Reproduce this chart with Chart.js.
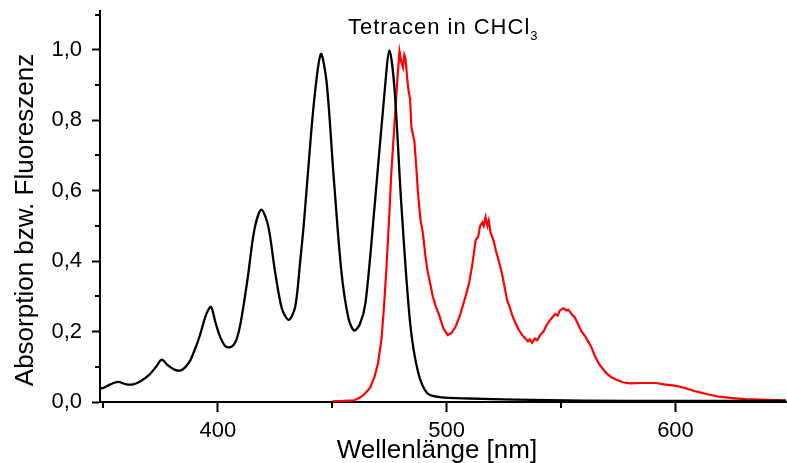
<!DOCTYPE html>
<html>
<head>
<meta charset="utf-8">
<script src="https://cdn.jsdelivr.net/npm/chart.js@4"></script>
<style>
  body{margin:0;background:#fff;}
  #wrap{position:relative;width:787px;height:463px;font-family:Arial,"Liberation Sans",sans-serif;color:#000;}
  #chart{position:absolute;left:0;top:0;}
  .lbl{position:absolute;white-space:nowrap;}
  #title{left:348px;top:16px;font-size:22px;line-height:22px;letter-spacing:1px;}
  #title sub{font-size:13px;vertical-align:-6px;letter-spacing:0;}
  #xtitle{left:237px;top:436px;width:400px;text-align:center;font-size:26px;line-height:26px;}
  #ytitle{left:-176px;top:207px;width:400px;text-align:center;font-size:26px;line-height:26px;transform:rotate(-90deg);}
</style>
</head>
<body>
<div id="wrap">
  <canvas id="chart" width="787" height="463"></canvas>
  <div class="lbl" id="title">Tetracen in CHCl<sub>3</sub></div>
  <div class="lbl" id="xtitle">Wellenlänge [nm]</div>
  <div class="lbl" id="ytitle">Absorption bzw. Fluoreszenz</div>
</div>
<script>
// ACHSEN
const xMajor=[400,500,600];
const xMinor=[350,450,550];
const yMajor=[0,0.2,0.4,0.6,0.8,1.0];
const yMinor=[0.1,0.3,0.5,0.7,0.9,1.1];

// ABSORPTION (schwarz)
const absWl=[348.5,350,353,356.5,360,363,366,370,373,375.5,378,381,384,387.5,390,392,395,397,399,401,403.5,406,408,410,413,416,419,422,425,428,431,433.8,436,437.5,439,442,445,447.5,450.5,454,457,459.5,462,464.5,468.5,473,475,477.2,480.2,484,487.5,491.5,497,510,530,560,600,648.5];
const absVal=[0.038,0.04,0.05,0.057,0.05,0.05,0.058,0.077,0.1,0.12,0.105,0.092,0.09,0.113,0.15,0.186,0.25,0.27,0.225,0.185,0.157,0.157,0.175,0.226,0.35,0.49,0.546,0.5,0.37,0.265,0.233,0.27,0.4,0.5,0.62,0.85,0.988,0.91,0.65,0.37,0.24,0.203,0.22,0.28,0.555,0.89,0.998,0.89,0.56,0.227,0.085,0.025,0.014,0.01,0.007,0.004,0.003,0.003];

// FLUORESZENZ (rot)
const fluWl=[450,455,459.5,462,464,466.5,468.5,470,471.5,472.5,473.6,475,475.8,476.8,477.7,478.6,479.4,480.2,480.9,481.5,482,482.6,483.2,484,484.6,485.9,486.8,487.4,488.5,489.6,490.8,491.7,493,493.9,495.3,496.8,498.5,500.4,502,504,505.5,506.9,508.5,509.8,511.2,512.7,513.8,514.6,515.6,516.2,517,517.8,518.4,519.2,520.6,521.5,522.8,524,525,526.4,527.5,528.6,530,531.5,533,534.4,535.5,536.3,537.3,538.5,539.5,540.9,542.3,543.8,545.5,547.4,548.5,549.5,551,552.3,553.2,554.6,556,557.5,559,560.4,562,563.3,564.8,566.9,569.8,572,574.2,577,580,585,591.5,595,600.2,604,608.9,614,619,625,630.6,640,648.5];
const fluVal=[0.002,0.003,0.005,0.012,0.022,0.04,0.072,0.11,0.178,0.26,0.37,0.54,0.65,0.75,0.84,0.93,0.995,0.965,0.95,0.985,0.975,0.93,0.89,0.86,0.78,0.74,0.66,0.6,0.52,0.48,0.41,0.37,0.33,0.3,0.27,0.245,0.21,0.19,0.195,0.215,0.24,0.27,0.305,0.337,0.39,0.46,0.47,0.5,0.51,0.5,0.525,0.5,0.515,0.48,0.457,0.43,0.4,0.37,0.337,0.29,0.27,0.247,0.225,0.205,0.19,0.18,0.172,0.178,0.168,0.18,0.175,0.19,0.2,0.22,0.235,0.25,0.245,0.26,0.266,0.26,0.262,0.25,0.24,0.22,0.2,0.188,0.17,0.155,0.13,0.105,0.082,0.07,0.063,0.056,0.053,0.054,0.054,0.05,0.046,0.04,0.03,0.022,0.015,0.011,0.008,0.006,0.005];

const pts=(xs,ys)=>xs.map((x,i)=>({x,y:ys[i]}));
const komma=v=>v.toFixed(1).replace(".",",");

// KLEINE TICKS
const minorTicks={
  id:"minorTicks",
  afterDraw(c){
    const ctx=c.ctx, xs=c.scales.x, ys=c.scales.y, a=c.chartArea;
    ctx.save();
    ctx.strokeStyle="#000";
    ctx.lineWidth=2;
    ctx.beginPath();
    xMinor.forEach(v=>{let p=Math.round(xs.getPixelForValue(v));ctx.moveTo(p,a.bottom);ctx.lineTo(p,a.bottom+6);});
    yMinor.forEach(v=>{let p=Math.round(ys.getPixelForValue(v));ctx.moveTo(a.left,p);ctx.lineTo(a.left-5,p);});
    ctx.stroke();
    ctx.restore();
  }
};

new Chart(document.getElementById("chart"),{
  type:"line",
  data:{
    datasets:[
      {data:pts(absWl,absVal),borderColor:"#000",borderWidth:2.3,pointRadius:0,tension:0.3},
      {data:pts(fluWl,fluVal),borderColor:"#ff0000",borderWidth:2.2,pointRadius:0,tension:0}
    ]
  },
  options:{
    responsive:false,
    animation:false,
    layout:{padding:{top:11,right:1,left:0,bottom:0}},
    plugins:{legend:{display:false},tooltip:{enabled:false}},
    scales:{
      x:{
        type:"linear",min:348.5,max:648.3,
        afterBuildTicks:s=>{s.ticks=xMajor.map(v=>({value:v}));},
        afterFit:s=>{s.height=61;s.paddingLeft=0;s.paddingRight=0;},
        ticks:{color:"#000",font:{family:"Arial, 'Liberation Sans'",size:22},padding:6,maxRotation:0},
        grid:{drawOnChartArea:false,tickLength:10,tickColor:"#000",tickWidth:2},
        border:{color:"#000",width:2}
      },
      y:{
        min:0,max:1.11,
        afterBuildTicks:s=>{s.ticks=yMajor.map(v=>({value:v}));},
        afterFit:s=>{s.width=100;s.paddingTop=0;s.paddingBottom=0;},
        ticks:{color:"#000",font:{family:"Arial, 'Liberation Sans'",size:22},padding:10,callback:v=>komma(v)},
        grid:{drawOnChartArea:false,tickLength:8,tickColor:"#000",tickWidth:2},
        border:{color:"#000",width:2}
      }
    }
  },
  plugins:[minorTicks]
});
</script>
</body>
</html>
